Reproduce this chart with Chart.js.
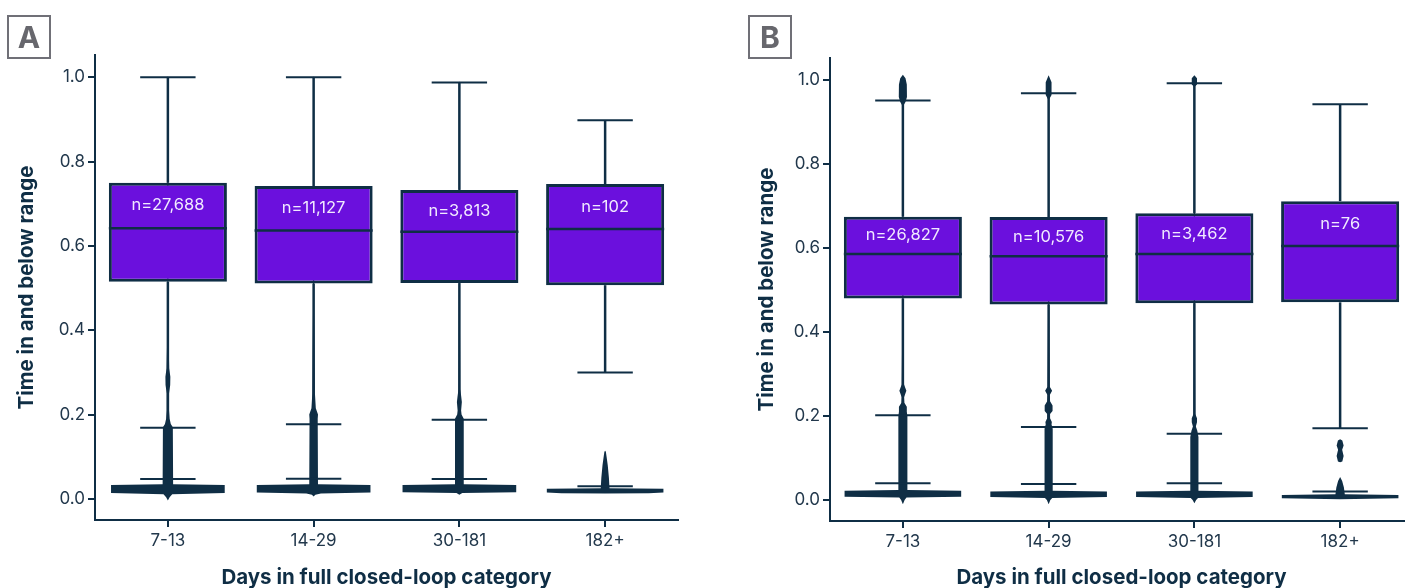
<!DOCTYPE html>
<html><head><meta charset="utf-8">
<script src="https://cdn.jsdelivr.net/npm/chart.js@4/dist/chart.umd.min.js"></script>
<style>
html,body{margin:0;padding:0;width:1405px;height:588px;overflow:hidden;background:#fff;}
#ca{position:absolute;left:0;top:0;}
#cb{position:absolute;left:735px;top:0;}
.tag{position:absolute;top:15px;width:40px;height:40px;border:2px solid #707077;color:#67676d;font:bold 30px Inter, sans-serif;display:flex;align-items:center;justify-content:center;box-sizing:content-box;}
</style></head>
<body>
<canvas id="ca" width="700" height="588"></canvas>
<canvas id="cb" width="700" height="588"></canvas>
<div class="tag" style="left:7px">A</div>
<div class="tag" style="left:748px">B</div>
<script>
// ---------- data ----------
const categories = ['7-13', '14-29', '30-181', '182+'];
const yTickValues = [0, 0.2, 0.4, 0.6, 0.8, 1.0];

// Panel A
const aQ1 = [0.515, 0.511, 0.512, 0.507];
const aMedian = [0.642, 0.637, 0.634, 0.640];
const aQ3 = [0.750, 0.742, 0.733, 0.747];
const aWhiskerHigh = [1.0, 1.0, 0.988, 0.898];
const aWhiskerLow = [0.169, 0.177, 0.188, 0.300];
const aLowClusterCap = [0.047, 0.048, 0.047, 0.030];
const aN = ['n=27,688', 'n=11,127', 'n=3,813', 'n=102'];
// violin profiles: [value, relative half-width]
const aViolin = [
  [[-0.004,0],[0.004,0.012],[0.011,0.03],[0.014,0.39],[0.033,0.39],[0.035,0.036],[0.17,0.034],[0.178,0.02],[0.19,0.012],[0.21,0.008],[0.25,0.008],[0.27,0.016],[0.29,0.017],[0.31,0.009],[0.36,0.006],[0.45,0.004],[1.0,0.003],[1.002,0]],
  [[0.006,0],[0.010,0.012],[0.013,0.05],[0.015,0.39],[0.033,0.39],[0.035,0.03],[0.19,0.028],[0.20,0.03],[0.215,0.015],[0.25,0.009],[0.35,0.007],[0.45,0.004],[1.0,0.003],[1.002,0]],
  [[0.01,0],[0.014,0.02],[0.016,0.39],[0.033,0.39],[0.035,0.03],[0.19,0.03],[0.20,0.015],[0.21,0.012],[0.23,0.017],[0.245,0.012],[0.26,0.006],[0.35,0.005],[0.5,0.003],[0.988,0.003],[0.99,0]],
  [[0.013,0],[0.0135,0.3],[0.015,0.4],[0.024,0.4],[0.0255,0.03],[0.05,0.026],[0.08,0.018],[0.1,0.01],[0.112,0.005],[0.114,0]]
];

// Panel B
const bQ1 = [0.480, 0.466, 0.469, 0.471];
const bMedian = [0.586, 0.581, 0.586, 0.605];
const bQ3 = [0.675, 0.674, 0.683, 0.712];
const bWhiskerHigh = [0.952, 0.969, 0.993, 0.943];
const bWhiskerLow = [0.202, 0.174, 0.158, 0.171];
const bLowClusterCap = [0.040, 0.038, 0.040, 0.020];
const bN = ['n=26,827', 'n=10,576', 'n=3,462', 'n=76'];
const bViolin = [
  [[-0.01,0],[0.0,0.012],[0.006,0.025],[0.008,0.4],[0.022,0.4],[0.024,0.031],[0.2,0.031],[0.21,0.027],[0.222,0.027],[0.232,0.01],[0.245,0.008],[0.26,0.024],[0.275,0.008],[0.35,0.006],[0.45,0.004],[0.94,0.004],[0.948,0.018],[0.96,0.028],[0.99,0.027],[1.005,0.018],[1.013,0]],
  [[-0.01,0],[0.0,0.012],[0.005,0.025],[0.007,0.4],[0.02,0.4],[0.022,0.028],[0.17,0.028],[0.18,0.02],[0.186,0.022],[0.195,0.01],[0.205,0.01],[0.212,0.027],[0.225,0.027],[0.235,0.01],[0.25,0.008],[0.26,0.024],[0.27,0.008],[0.35,0.006],[0.45,0.004],[0.955,0.004],[0.965,0.02],[0.995,0.02],[1.012,0]],
  [[-0.008,0],[0.0,0.012],[0.005,0.025],[0.007,0.4],[0.02,0.4],[0.022,0.028],[0.15,0.028],[0.165,0.02],[0.175,0.01],[0.185,0.018],[0.195,0.018],[0.205,0.006],[0.3,0.005],[0.45,0.004],[0.985,0.004],[0.99,0.018],[1.005,0.018],[1.012,0]],
  [[0.002,0],[0.004,0.4],[0.012,0.4],[0.014,0.032],[0.03,0.026],[0.045,0.014],[0.055,0],[0.09,0],[0.092,0.015],[0.105,0.024],[0.12,0.014],[0.13,0.024],[0.142,0.015],[0.145,0]]
];

// ---------- styles ----------
const NAVY = '#0f2e45';
const PURPLE = '#6b10dd';
const TICK_COLOR = '#22384c';
const FONT = 'Inter, "Noto Sans", sans-serif';

function makePlugin(p) {
  return {
    id: 'boxviolin',
    beforeDatasetsDraw(chart) {
      const {ctx, scales: {x, y}} = chart;
      const cw = x.width / categories.length;
      ctx.save();
      ctx.fillStyle = NAVY;
      p.violin.forEach((prof, i) => {
        const cx = x.getPixelForValue(i);
        ctx.beginPath();
        prof.forEach(([v, w], k) => {
          const px = cx + w * cw, py = y.getPixelForValue(v);
          if (k) ctx.lineTo(px, py); else ctx.moveTo(px, py);
        });
        for (let k = prof.length - 1; k >= 0; k--) {
          const [v, w] = prof[k];
          ctx.lineTo(cx - w * cw, y.getPixelForValue(v));
        }
        ctx.closePath();
        ctx.fill();
      });
      ctx.strokeStyle = NAVY;
      ctx.lineCap = 'butt';
      const capHalf = 0.19 * cw;
      const line = (x1, y1, x2, y2) => { ctx.beginPath(); ctx.moveTo(x1, y1); ctx.lineTo(x2, y2); ctx.stroke(); };
      categories.forEach((c, i) => {
        const cx = x.getPixelForValue(i);
        ctx.lineWidth = 2.5;
        line(cx, y.getPixelForValue(p.q3[i]), cx, y.getPixelForValue(p.hi[i]));
        line(cx, y.getPixelForValue(p.q1[i]), cx, y.getPixelForValue(p.lo[i]));
        ctx.lineWidth = 2;
        line(cx - capHalf, y.getPixelForValue(p.hi[i]), cx + capHalf, y.getPixelForValue(p.hi[i]));
        line(cx - capHalf, y.getPixelForValue(p.lo[i]), cx + capHalf, y.getPixelForValue(p.lo[i]));
        line(cx - capHalf, y.getPixelForValue(p.lowCap[i]), cx + capHalf, y.getPixelForValue(p.lowCap[i]));
      });
      ctx.restore();
    },
    afterDatasetsDraw(chart) {
      const {ctx, scales: {x, y}} = chart;
      const meta = chart.getDatasetMeta(0);
      ctx.save();
      categories.forEach((c, i) => {
        const el = meta.data[i];
        const l = el.x - el.width / 2, r = el.x + el.width / 2;
        const my = y.getPixelForValue(p.med[i]);
        ctx.strokeStyle = NAVY;
        ctx.lineWidth = 2.5;
        ctx.beginPath(); ctx.moveTo(l, my); ctx.lineTo(r, my); ctx.stroke();
        ctx.fillStyle = '#f1eaff';
        ctx.font = '16.5px ' + FONT;
        ctx.textAlign = 'center';
        ctx.textBaseline = 'middle';
        const ty = (y.getPixelForValue(p.q3[i]) + my) / 2;
        ctx.fillText(p.n[i], el.x, ty);
      });
      ctx.restore();
    }
  };
}

function makeChart(id, p, padTop, xHeight, yTitlePad) {
  const gridCfg = {display: true, drawOnChartArea: false, drawTicks: true, tickLength: 7, color: NAVY, lineWidth: 2, offset: false};
  return new Chart(document.getElementById(id), {
    type: 'bar',
    data: {
      labels: categories,
      datasets: [{
        data: categories.map((c, i) => [p.q1[i], p.q3[i]]),
        backgroundColor: PURPLE,
        borderColor: NAVY,
        borderWidth: 3,
        borderSkipped: false,
        barPercentage: 0.81,
        categoryPercentage: 1.0
      }]
    },
    options: {
      responsive: false,
      devicePixelRatio: 1,
      animation: false,
      layout: {padding: {top: padTop, left: 0, right: 22, bottom: 0}},
      plugins: {legend: {display: false}, tooltip: {enabled: false}},
      scales: {
        x: {
          offset: true,
          grid: gridCfg,
          border: {display: true, color: NAVY, width: 2},
          ticks: {color: TICK_COLOR, font: {family: FONT, size: 17}, padding: 4},
          title: {display: true, text: 'Days in full closed-loop category', color: NAVY, font: {family: FONT, size: 20.5, weight: 'bold'}, padding: {top: 0, bottom: -2}},
          afterFit(s) { s.height = xHeight; }
        },
        y: {
          min: -0.05, max: 1.053,
          grid: gridCfg,
          border: {display: true, color: NAVY, width: 2},
          afterBuildTicks(s) { s.ticks = yTickValues.map(v => ({value: v})); },
          ticks: {color: TICK_COLOR, font: {family: FONT, size: 17}, padding: 3, callback: v => Number(v).toFixed(1)},
          title: {display: true, text: 'Time in and below range', color: NAVY, font: {family: FONT, size: 20.5, weight: 'bold'}, padding: {top: yTitlePad, bottom: 0}},
          afterFit(s) { s.width = 95; }
        }
      }
    },
    plugins: [makePlugin(p)]
  });
}

makeChart('ca', {q1: aQ1, med: aMedian, q3: aQ3, hi: aWhiskerHigh, lo: aWhiskerLow, lowCap: aLowClusterCap, n: aN, violin: aViolin}, 55, 68, 15);
makeChart('cb', {q1: bQ1, med: bMedian, q3: bQ3, hi: bWhiskerHigh, lo: bWhiskerLow, lowCap: bLowClusterCap, n: bN, violin: bViolin}, 58, 67, 20);
</script>
</body></html>
